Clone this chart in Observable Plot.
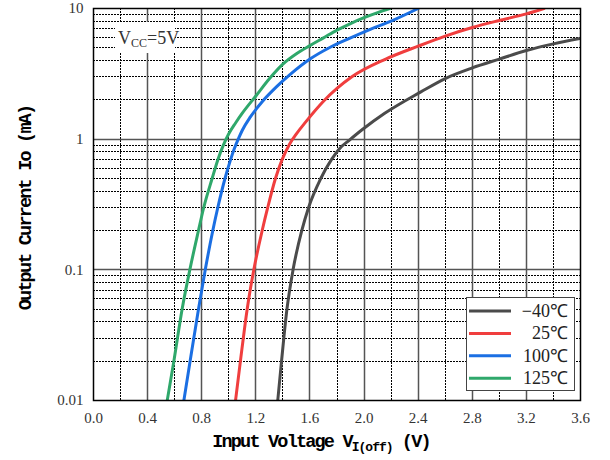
<!DOCTYPE html>
<html><head><meta charset="utf-8">
<script src="https://cdn.jsdelivr.net/npm/d3@7"></script>
<script src="https://cdn.jsdelivr.net/npm/@observablehq/plot@0.6"></script>
<style>body{margin:0;background:#fff} #chart{width:610px;height:460px}</style>
</head><body><div id="chart"></div>
<script>
// Series
const series = ["−40℃", "25℃", "100℃", "125℃"];
const colors = ["#4b4b4b", "#f03e3e", "#1b6fe3", "#2fa86b"];

// -40°C
const vM40 = [1.362, 1.39, 1.43, 1.475, 1.54, 1.59, 1.68, 1.76, 1.82, 1.89, 1.99, 2.15, 2.42, 2.6, 2.8, 3.0, 3.2, 3.4, 3.6];
const iM40 = [0.01, 0.02, 0.05, 0.1, 0.2, 0.3, 0.5, 0.7, 0.85, 0.98, 1.19, 1.57, 2.3, 2.91, 3.51, 4.1, 4.77, 5.36, 5.9];
// 25°C
const v25 = [1.05, 1.086, 1.136, 1.185, 1.247, 1.288, 1.345, 1.395, 1.45, 1.50, 1.56, 1.70, 1.91, 2.16, 2.40, 2.6, 2.8, 3.0, 3.2, 3.33];
const i25 = [0.01, 0.02, 0.05, 0.1, 0.2, 0.3, 0.5, 0.7, 0.92, 1.1, 1.32, 1.95, 3.0, 4.1, 5.15, 6.15, 7.15, 8.1, 9.1, 10];
// 100°C
const v100 = [0.668, 0.714, 0.776, 0.826, 0.882, 0.919, 0.972, 1.014, 1.04, 1.07, 1.10, 1.16, 1.25, 1.35, 1.45, 1.6, 1.75, 1.9, 2.05, 2.2, 2.40];
const i100 = [0.01, 0.02, 0.05, 0.1, 0.2, 0.3, 0.5, 0.7, 0.84, 1.0, 1.17, 1.48, 1.95, 2.5, 3.1, 4.1, 5.05, 5.95, 6.95, 8.0, 10];
// 125°C
const v125 = [0.545, 0.594, 0.655, 0.712, 0.776, 0.815, 0.877, 0.92, 0.96, 1.0, 1.05, 1.1, 1.2, 1.3, 1.4, 1.5, 1.6, 1.7, 1.8, 1.9, 2.0, 2.1, 2.19];
const i125 = [0.01, 0.02, 0.05, 0.1, 0.2, 0.3, 0.5, 0.7, 0.9, 1.1, 1.33, 1.58, 2.14, 2.9, 3.75, 4.5, 5.2, 5.96, 6.84, 7.67, 8.5, 9.3, 10];

// Ticks / grid
const xTicks = [0, 0.4, 0.8, 1.2, 1.6, 2.0, 2.4, 2.8, 3.2, 3.6];
const xMajor = [0.4, 0.8, 1.2, 1.6, 2.0, 2.4, 2.8, 3.2];
const xMinor = [0.2, 0.6, 1.0, 1.4, 1.8, 2.2, 2.6, 3.0, 3.4];
const yTicks = [0.01, 0.1, 1, 10];
const yMajor = [0.1, 1];
const yMinor = [0.02,0.03,0.04,0.05,0.06,0.07,0.08,0.09, 0.2,0.3,0.4,0.5,0.6,0.7,0.8,0.9, 2,3,4,5,6,7,8,9];

const rows = [];
[[vM40, iM40], [v25, i25], [v100, i100], [v125, i125]].forEach(([vs, is], k) => {
  vs.forEach((v, j) => rows.push({v, i: is[j], s: series[k]}));
});

const chart = Plot.plot({
  width: 610, height: 460,
  marginLeft: 93, marginRight: 30, marginTop: 8, marginBottom: 60,
  x: {domain: [0, 3.6]},
  y: {type: "log", domain: [0.01, 10]},
  color: {domain: series, range: colors},
  style: {fontFamily: "'Liberation Serif', serif", fontSize: "15px", color: "#333", background: "#fff"},
  marks: [
    Plot.ruleX(xMinor, {stroke: "#000", strokeWidth: 1, strokeDasharray: "2,1", shapeRendering: "crispEdges"}),
    Plot.ruleY(yMinor, {stroke: "#000", strokeWidth: 1, strokeDasharray: "2,1", shapeRendering: "crispEdges"}),
    Plot.ruleX(xMajor, {stroke: "#555", strokeWidth: 1.5}),
    Plot.ruleY(yMajor, {stroke: "#555", strokeWidth: 1.5}),
    Plot.line(rows, {x: "v", y: "i", z: "s", stroke: "s", strokeWidth: 3, curve: "monotone-x", clip: true}),
    Plot.frame({stroke: "#000", strokeWidth: 1.5}),
    Plot.axisX({ticks: xTicks, tickFormat: d => d.toFixed(1), tickSize: 0, tickPadding: 12, label: null, letterSpacing: 1.5}),
    Plot.axisY({ticks: yTicks, tickFormat: d => String(d), tickSize: 0, tickPadding: 10, label: null})
  ]
});
document.getElementById("chart").append(chart);

const svg = d3.select(chart);
// snap grid rules to whole pixels so the dotted pattern stays crisp
svg.selectAll('g[aria-label="rule"] line').each(function() {
  for (const a of ["x1", "x2", "y1", "y2"]) {
    const v = this.getAttribute(a);
    if (v != null) this.setAttribute(a, Math.round(+v));
  }
});

// Vcc label
const vg = svg.append("g");
vg.append("rect").attr("x", 115).attr("y", 22).attr("width", 60).attr("height", 31).attr("fill", "#fff");
const vt = vg.append("text").attr("x", 118).attr("y", 44).attr("text-anchor", "start")
  .attr("font-family", "'Liberation Serif', serif").attr("font-size", 18).attr("fill", "#333");
vt.append("tspan").text("V");
vt.append("tspan").attr("font-size", 12).attr("dy", 3).text("CC");
vt.append("tspan").attr("dy", -3).text("=5V");

// Legend
const lg = svg.append("g");
lg.append("rect").attr("x", 466.5).attr("y", 297.5).attr("width", 108).attr("height", 93)
  .attr("fill", "#fff").attr("stroke", "#444").attr("stroke-width", 1);
series.forEach((s, k) => {
  const y = 311 + 22.4 * k;
  lg.append("line").attr("x1", 469).attr("x2", 511).attr("y1", y).attr("y2", y)
    .attr("stroke", colors[k]).attr("stroke-width", 3);
  lg.append("text").attr("x", 568).attr("y", y + 6).attr("text-anchor", "end")
    .attr("font-family", "'Liberation Serif', serif").attr("font-size", 18).attr("fill", "#222").text(s);
});

// Axis titles
const titleFont = "'Liberation Mono', monospace";
const xt = svg.append("text").attr("x", 321).attr("y", 447).attr("text-anchor", "middle")
  .attr("font-family", titleFont).attr("font-weight", "bold").attr("font-size", 18.5)
  .attr("letter-spacing", -1.8).attr("fill", "#000");
xt.append("tspan").text("Input Voltage V");
xt.append("tspan").attr("font-size", 13).attr("dy", 4).attr("letter-spacing", -1).text("I(off)");
xt.append("tspan").attr("dy", -4).text("\u00a0(V)");

svg.append("text").attr("transform", "translate(31,208) rotate(-90)").attr("text-anchor", "middle")
  .attr("font-family", titleFont).attr("font-weight", "bold").attr("font-size", 18.5)
  .attr("letter-spacing", -1.8).attr("fill", "#000").text("Output Current Io (mA)");
</script>
</body></html>
